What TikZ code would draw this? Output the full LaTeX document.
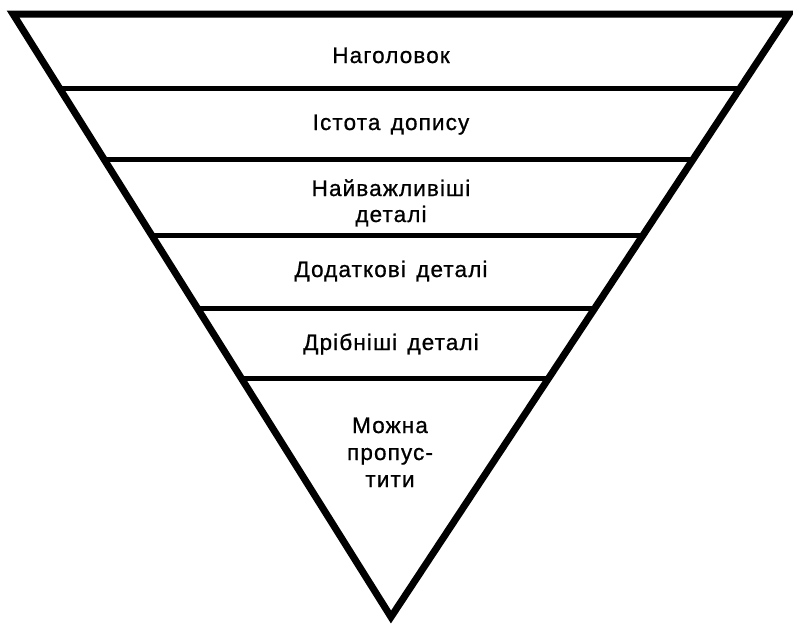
\documentclass[tikz,border=0pt]{standalone}
\usepackage{fontspec}
\newfontfamily\ukfont[LetterSpace=5,WordSpace=1.4,FakeBold=0.8]{Liberation Sans}
\begin{document}
\begin{tikzpicture}[x=1pt,y=-1pt,
  outline/.style={line width=7pt,line join=miter,black},
  divider/.style={line width=5pt,black},
  label/.style={font=\ukfont\fontsize{22.5}{27}\selectfont,anchor=base,inner sep=0pt,text=black}]
\fill[white] (0,0) rectangle (793,625);
\useasboundingbox (0,0) rectangle (793,625);
\coordinate (TL) at (13,14);
\coordinate (TR) at (789,14);
\coordinate (A) at (391,617);
\draw[outline] (TL) -- (TR) -- (A) -- cycle;
\foreach \t [count=\i] in {0.123,0.241,0.367,0.488,0.604}{
  \path (TL) -- (A) coordinate[pos=\t] (L\i);
  \path (TR) -- (A) coordinate[pos=\t] (R\i);
  \draw[divider] (L\i) -- (R\i);
}
\node[label] (t1) at (391,63) {Наголовок};
\node[label] (t2) at (391,130) {Істота допису};
\node[label] (t3a) at (391,196) {Найважливіші};
\node[label] (t3b) at (391,222) {деталі};
\node[label] (t4) at (391,277) {Додаткові деталі};
\node[label] (t5) at (391,350) {Дрібніші деталі};
\node[label] (t6a) at (390,433) {Можна};
\node[label] (t6b) at (390,460) {пропус-};
\node[label] (t6c) at (390,487) {тити};
\end{tikzpicture}
\end{document}
